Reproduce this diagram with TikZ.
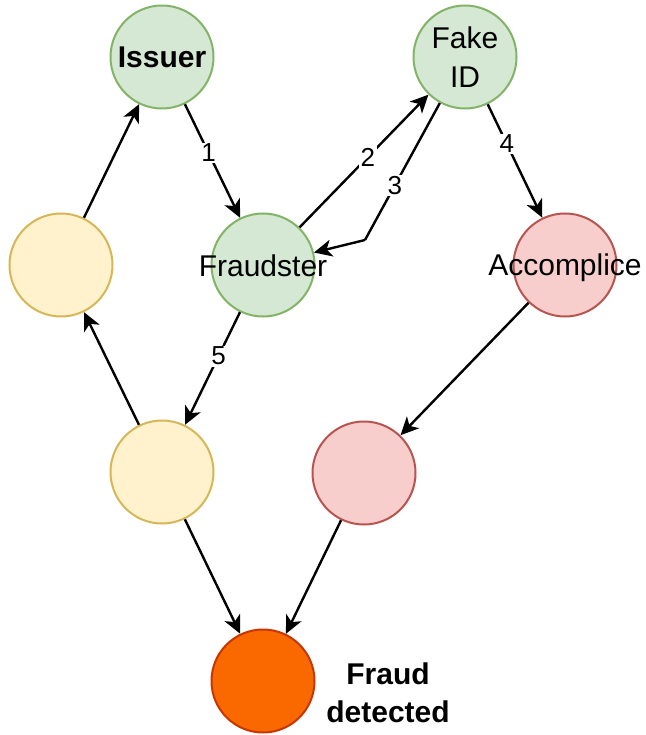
\documentclass[tikz,border=0pt]{standalone}
\usepackage{fontspec}
\setmainfont{Liberation Sans}
\usetikzlibrary{arrows.meta}
\definecolor{gfill}{HTML}{D5E8D4}\definecolor{gline}{HTML}{82B366}
\definecolor{yfill}{HTML}{FFF2CC}\definecolor{yline}{HTML}{D6B656}
\definecolor{rfill}{HTML}{F8CECC}\definecolor{rline}{HTML}{B85450}
\definecolor{ofill}{HTML}{FA6800}\definecolor{oline}{HTML}{C73500}
\begin{document}
\begin{tikzpicture}[x=1pt,y=-1pt,
  base/.style={circle,minimum size=103pt,inner sep=0pt,line width=2pt},
  green/.style={base,fill=gfill,draw=gline},
  yellow/.style={base,fill=yfill,draw=yline},
  red/.style={base,fill=rfill,draw=rline},
  orange/.style={base,fill=ofill,draw=oline},
  txt/.style={font=\fontsize{30}{39}\selectfont,align=center},
  btxt/.style={font=\fontsize{30}{38}\selectfont\bfseries,align=center},
  conn/.style={line width=2.4pt,-{Stealth[length=18pt,width=17pt,inset=5pt]}},
  lbl/.style={fill=white,inner sep=1.5pt,font=\fontsize{26}{30}\selectfont}]
\useasboundingbox (0,0) rectangle (645,735);
\node[green] (issuer) at (162,57) {};
\node[btxt] (issuert) at (issuer.center) {Issuer};
\node[green] (fake) at (465,57) {};
\node[txt] (faket) at (fake.center) {Fake\\ID};
\node[yellow] (ly) at (61,265) {};
\node[green] (fraud) at (263,265) {};
\node[txt] (fraudt) at ([yshift=-1pt]fraud.center) {Fraudster};
\node[red] (acc) at (565,265) {};
\node[txt] (acct) at ([yshift=-3pt]acc.center) {Accomplice};
\node[yellow] (by) at (162,472) {};
\node[red] (pink) at (364,473) {};
\node[orange] (det) at (263,681) {};
\node[btxt] (dett) at (388,693) {Fraud\\detected};
\coordinate (b3) at (365,240);
\draw[conn] (issuer) -- node[lbl,pos=0.43]{1} (fraud);
\draw[conn] (fraud) -- node[lbl,pos=0.53]{2} (fake);
\draw[line width=2.4pt] (fake) -- node[lbl,pos=0.6]{3} (b3);
\draw[conn] (b3) -- (fraud);
\draw[conn] (fake) -- node[lbl,pos=0.35]{4} (acc);
\draw[conn] (fraud) -- node[lbl,pos=0.39]{5} (by);
\draw[conn] (by) -- (ly);
\draw[conn] (ly) -- (issuer);
\draw[conn] (acc) -- (pink);
\draw[conn] (by) -- (det);
\draw[conn] (pink) -- (det);
\end{tikzpicture}
\end{document}
